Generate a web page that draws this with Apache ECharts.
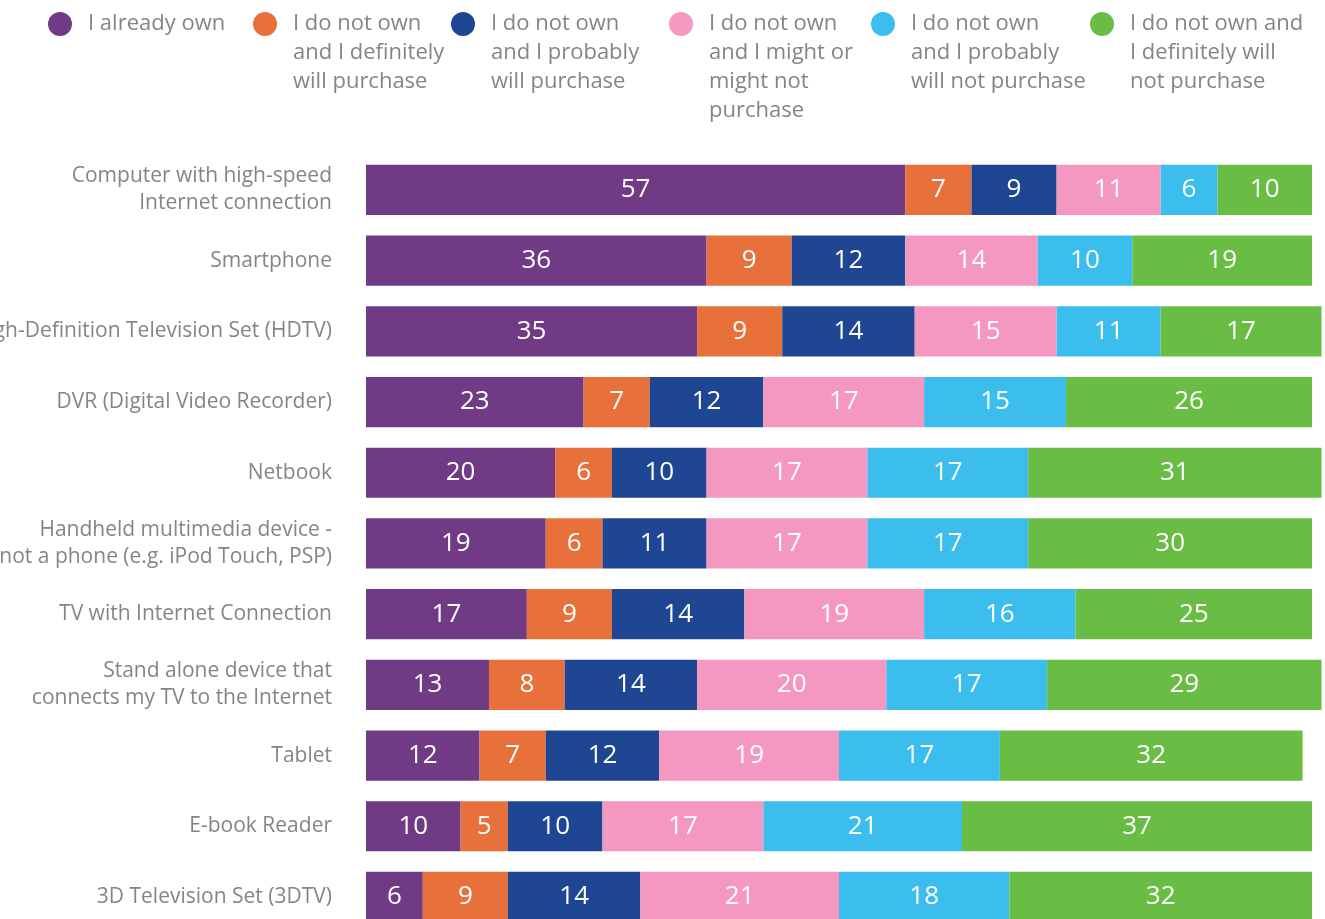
<!DOCTYPE html>
<html>
<head>
<meta charset="utf-8">
<script src="https://cdn.jsdelivr.net/npm/echarts@6/dist/echarts.min.js"></script>
<style>
  html, body { margin: 0; padding: 0; background: #fff; }
  #chart { width: 1325px; height: 919px; }
</style>
</head>
<body>
<div id="chart"></div>
<script>
  const categories = [
    'Computer with high-speed\nInternet connection',
    'Smartphone',
    'High-Definition Television Set (HDTV)',
    'DVR (Digital Video Recorder)',
    'Netbook',
    'Handheld multimedia device -\nnot a phone (e.g. iPod Touch, PSP)',
    'TV with Internet Connection',
    'Stand alone device that\nconnects my TV to the Internet',
    'Tablet',
    'E-book Reader',
    '3D Television Set (3DTV)'
  ];

  const seriesNames = [
    'I already own',
    'I do not own\nand I definitely\nwill purchase',
    'I do not own\nand I probably\nwill purchase',
    'I do not own\nand I might or\nmight not\npurchase',
    'I do not own\nand I probably\nwill not purchase',
    'I do not own and\nI definitely will\nnot purchase'
  ];

  const alreadyOwn = [57, 36, 35, 23, 20, 19, 17, 13, 12, 10, 6];
  const definitelyWill = [7, 9, 9, 7, 6, 6, 9, 8, 7, 5, 9];
  const probablyWill = [9, 12, 14, 12, 10, 11, 14, 14, 12, 10, 14];
  const mightOrMightNot = [11, 14, 15, 17, 17, 17, 19, 20, 19, 17, 21];
  const probablyWillNot = [6, 10, 11, 15, 17, 17, 16, 17, 17, 21, 18];
  const definitelyWillNot = [10, 19, 17, 26, 31, 30, 25, 29, 32, 37, 32];

  const seriesValues = [alreadyOwn, definitelyWill, probablyWill, mightOrMightNot, probablyWillNot, definitelyWillNot];
  const colors = ['#703A84', '#E8703A', '#1F4692', '#F598C1', '#3BBDED', '#69BD45'];

  // legend x positions (icon left edge)
  const legendLeft = [48, 253, 451, 669, 871, 1090];
  const lineH = 29;

  // legend text is centered on the icon, so pad with blank lines above
  // to get the first line level with the dot
  const legends = seriesNames.map((name, i) => {
    const lines = name.split('\n').length;
    return {
      data: [name],
      left: legendLeft[i],
      top: 24 - (2 * lines - 1) * lineH / 2,
      padding: 0,
      icon: 'circle',
      itemWidth: 24,
      itemHeight: 24,
      itemGap: 0,
      selectedMode: false,
      formatter: (n) => '\n'.repeat(lines - 1) + n,
      textStyle: {
        fontFamily: 'Open Sans',
        fontSize: 22,
        color: '#858585',
        lineHeight: lineH,
        padding: [0, 0, 0, 11]
      }
    };
  });

  const series = seriesNames.map((name, i) => ({
    name: name,
    type: 'bar',
    stack: 'total',
    barCategoryGap: '29%',
    itemStyle: { color: colors[i] },
    label: {
      show: true,
      position: 'inside',
      color: '#fff',
      fontFamily: 'Open Sans',
      fontSize: 26,
      fontWeight: 500,
      formatter: '{c}'
    },
    data: seriesValues[i]
  }));

  const chart = echarts.init(document.getElementById('chart'));
  chart.setOption({
    animation: false,
    legend: legends,
    grid: {
      left: 366,
      top: 154.6,
      width: 955.5,
      height: 777.7,
      containLabel: false,
      outerBoundsMode: 'none'
    },
    xAxis: {
      type: 'value',
      min: 0,
      max: 101,
      show: false
    },
    yAxis: {
      type: 'category',
      inverse: true,
      data: categories,
      axisLine: { show: false },
      axisTick: { show: false },
      axisLabel: {
        margin: 34,
        fontFamily: 'Open Sans',
        fontSize: 21,
        color: '#858585',
        lineHeight: 27
      }
    },
    series: series
  });
</script>
</body>
</html>
